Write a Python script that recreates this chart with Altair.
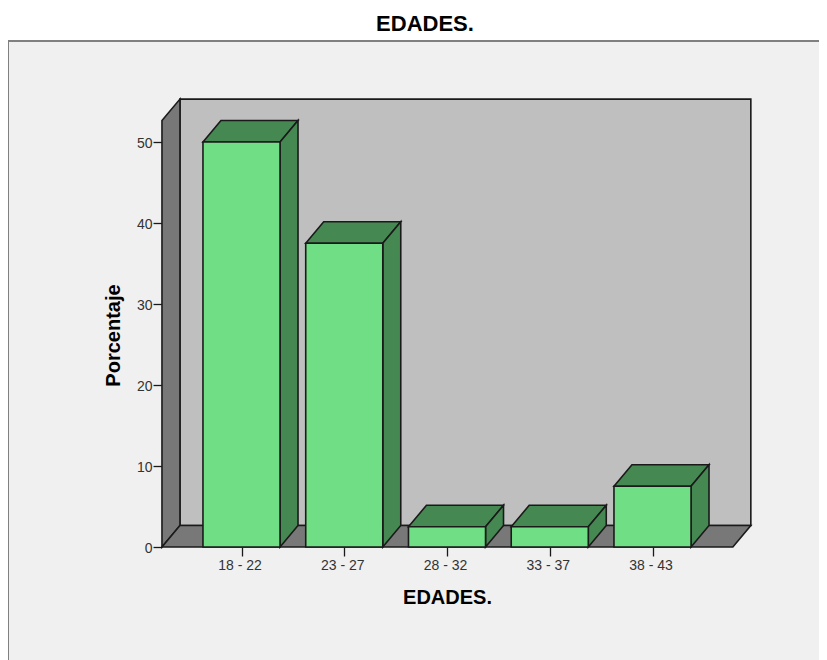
import altair as alt
import pandas as pd

categories = ["18 - 22", "23 - 27", "28 - 32", "33 - 37", "38 - 43"]
percent = [50.0, 37.5, 2.5, 2.5, 7.5]
y_ticks = [0, 10, 20, 30, 40, 50]

# Projection of the 3-D box, in data units
BAR_W = 0.75
DX = 0.175
DY = 2.65
WALL_L = -0.774
WALL_R = 4.782
WALL_TOP = 52.65

FRONT = "#70de84"
DARK = "#458852"
WALL = "#bfbfbf"
GREY = "#787878"
PANEL = "#f0f0f0"
LINE = "#1a1a1a"
SW = 1.6

fronts, tops, sides = [], [], []
for i, (c, v) in enumerate(zip(categories, percent)):
    l, r = i - BAR_W / 2, i + BAR_W / 2
    fronts.append(dict(cat=c, x=l, x2=r, y=0, y2=v))
    tops += [
        dict(cat=c, x=l, y=v, y2=v),
        dict(cat=c, x=l + DX, y=v + DY, y2=v),
        dict(cat=c, x=r, y=v + DY, y2=v),
        dict(cat=c, x=r + DX, y=v + DY, y2=v + DY),
    ]
    sides += [
        dict(cat=c, x=r, y=0, y2=v),
        dict(cat=c, x=r + DX, y=DY, y2=v + DY),
    ]

floor = pd.DataFrame([
    dict(x=WALL_L, y=0, y2=0),
    dict(x=WALL_L + DX, y=DY, y2=0),
    dict(x=WALL_R, y=DY, y2=0),
    dict(x=WALL_R + DX, y=DY, y2=DY),
])
left_wall = pd.DataFrame([
    dict(x=WALL_L, y=0, y2=WALL_TOP),
    dict(x=WALL_L + DX, y=DY, y2=WALL_TOP + DY),
])
back_wall = pd.DataFrame([dict(x=WALL_L + DX, x2=WALL_R + DX, y=DY, y2=WALL_TOP + DY)])

PLOT_W, PLOT_H = 811, 619
x_scale = alt.Scale(domain=[-2.2725, 5.6204], nice=False, zero=False)
y_scale = alt.Scale(domain=[-13.95, 62.47], nice=False, zero=False)

labels_js = "[" + ",".join(f"'{c}'" for c in categories) + "][datum.value]"
x_axis = alt.Axis(
    values=list(range(len(categories))), labelExpr=labels_js, orient="bottom",
    offset=-113, domain=False, grid=False, tickSize=9, tickColor=LINE, tickWidth=1.3,
    labelFontSize=14, labelColor="#333333", labelPadding=2, labelAngle=0, labelOffset=-2,
    title="EDADES.", titleFontSize=20, titleFontWeight="bold", titleColor="#000000",
    titleX=439, titleY=50, titleAnchor="middle", titleBaseline="middle",
)
y_axis = alt.Axis(
    values=y_ticks, orient="left", offset=-154, domain=False, grid=False,
    tickSize=9, tickColor=LINE, tickWidth=1.3,
    labelFontSize=14, labelColor="#333333", labelPadding=1, labelOffset=1,
    title="Porcentaje", titleFontSize=20, titleFontWeight="bold", titleColor="#000000",
    titleX=-49, titleY=294, titleAnchor="middle", titleBaseline="middle",
)
X = alt.X("x:Q", scale=x_scale, axis=x_axis)
Y = alt.Y("y:Q", scale=y_scale, axis=y_axis)
Y2 = alt.Y2("y2:Q")
X2 = alt.X2("x2:Q")

back = alt.Chart(back_wall).mark_rect(fill=WALL, stroke=LINE, strokeWidth=SW).encode(x=X, x2=X2, y=Y, y2=Y2)
left = alt.Chart(left_wall).mark_area(fill=GREY, stroke=LINE, strokeWidth=SW).encode(x=X, y=Y, y2=Y2)
flr = alt.Chart(floor).mark_area(fill=GREY, stroke=LINE, strokeWidth=SW).encode(x=X, y=Y, y2=Y2)
top_faces = alt.Chart(pd.DataFrame(tops)).mark_area(fill=DARK, stroke=LINE, strokeWidth=SW).encode(
    x=X, y=Y, y2=Y2, detail="cat:N")
side_faces = alt.Chart(pd.DataFrame(sides)).mark_area(fill=DARK, stroke=LINE, strokeWidth=SW).encode(
    x=X, y=Y, y2=Y2, detail="cat:N")
front_faces = alt.Chart(pd.DataFrame(fronts)).mark_rect(fill=FRONT, stroke=LINE, strokeWidth=SW).encode(
    x=X, x2=X2, y=Y, y2=Y2)

border_left = alt.Chart(pd.DataFrame({"a": [0]})).mark_rule(color="#808080", strokeWidth=2).encode(
    x=alt.value(0), y=alt.value(0), y2=alt.value(PLOT_H))
border_top = alt.Chart(pd.DataFrame({"a": [0]})).mark_rule(color="#808080", strokeWidth=2).encode(
    x=alt.value(0), x2=alt.value(PLOT_W), y=alt.value(0))

chart = alt.layer(
    back, left, flr, top_faces, side_faces, front_faces, border_left, border_top
).properties(
    width=PLOT_W, height=PLOT_H,
    padding={"left": 0, "right": 0, "top": 33, "bottom": 0},
    autosize=alt.AutoSizeParams(type="none"),
    background="#ffffff",
    title=alt.TitleParams("EDADES.", fontSize=22, fontWeight="bold", color="#000000",
                          font="Liberation Sans", anchor="middle", dx=11.5, offset=4),
).configure_view(fill=PANEL, stroke=None).configure_axis(
    labelFont="Liberation Sans", titleFont="Liberation Sans",
)

chart.save("out.html", embed_options={"renderer": "svg", "actions": False})
